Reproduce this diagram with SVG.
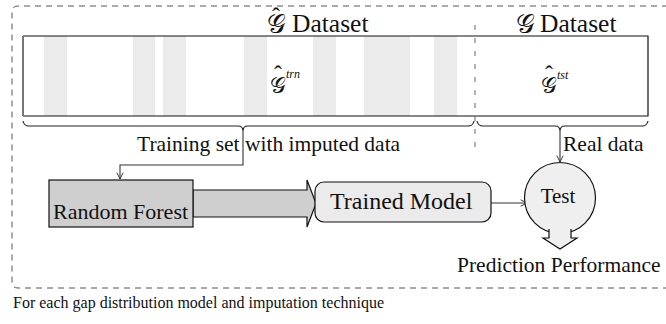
<svg xmlns="http://www.w3.org/2000/svg" width="666" height="324" viewBox="0 0 666 324">
  <style>
    text { font-family: "Liberation Serif", "Times New Roman", serif; fill: #111; }
    .lbl { font-size: 21.5px; }
    .title { font-size: 25.5px; }
    .cal { font-family: "DejaVu Serif", "DejaVu Sans", serif; font-style: normal; font-weight: normal; }
    .hat { font-size: 24px; }
    .sup { font-size: 12px; font-style: italic; }
    .frame { fill: none; stroke: #555; stroke-width: 1; stroke-dasharray: 6 5; }
    .divider { fill: none; stroke: #666; stroke-width: 1; stroke-dasharray: 5 8; }
    .stripe { fill: #ebebeb; }
    .brace { fill: none; stroke: #222; stroke-width: 1.2; }
    .conn { fill: none; stroke: #333; stroke-width: 1.1; }
    .box { stroke: #111; stroke-width: 1.2; }
  </style>
  <defs>
    <marker id="arrow" viewBox="0 0 10 10" refX="9" refY="5" markerWidth="8" markerHeight="8" orient="auto" markerUnits="userSpaceOnUse">
      <path d="M1,1 L9,5 L1,9" fill="none" stroke="#333" stroke-width="1.2"/>
    </marker>
  </defs>

  <!-- outer loop frame (open on the right) -->
  <path class="frame" d="M690,6 L18,6 Q12,6 12,12 L12,282 Q12,288 18,288 L690,288"/>
  <text x="13" y="308" font-size="16">For each gap distribution model and imputation technique</text>

  <!-- dataset strip -->
  <g id="dataset">
    <rect x="23" y="36" width="625" height="80" fill="#fff"/>
    <rect class="stripe" x="44" y="36" width="23" height="80"/>
    <rect class="stripe" x="133" y="36" width="22" height="80"/>
    <rect class="stripe" x="163" y="36" width="23" height="80"/>
    <rect class="stripe" x="244" y="36" width="23" height="80"/>
    <rect class="stripe" x="313" y="36" width="23" height="80"/>
    <rect class="stripe" x="364" y="36" width="46" height="80"/>
    <rect class="stripe" x="434" y="36" width="23" height="80"/>
    <path d="M23,36 L648,36 L648,116 L23,116" fill="none" stroke="#111" stroke-width="1.2"/>
    <line x1="23" y1="36" x2="23" y2="116" stroke="#777" stroke-width="2"/>
    <line class="divider" x1="475" y1="25" x2="475" y2="147"/>
    <text class="title" x="267" y="33"><tspan class="cal">𝒢</tspan><tspan class="hat" x="272" y="24">ˆ</tspan><tspan x="292" y="32">Dataset</tspan></text>
    <text class="title" x="516" y="33"><tspan class="cal">𝒢</tspan><tspan x="540" y="32">Dataset</tspan></text>
    <text x="270" y="93" font-size="22"><tspan class="cal">𝒢</tspan><tspan class="hat" x="274" y="82">ˆ</tspan><tspan class="sup" x="286" y="78">trn</tspan></text>
    <text x="541" y="93" font-size="22"><tspan class="cal">𝒢</tspan><tspan class="hat" x="545" y="82">ˆ</tspan><tspan class="sup" x="557" y="79">tst</tspan></text>
  </g>

  <!-- braces under the training and test parts -->
  <g id="braces">
    <path class="brace" d="M23,121 Q24,126 29,126 L238,126 Q243,126 243,131 Q243,126 248,126 L468,126 Q473,126 474,121"/>
    <path class="brace" d="M477,121 Q478,126 483,126 L555,126 Q560,126 560,131 Q560,126 565,126 L642,126 Q647,126 648,121"/>
  </g>

  <text class="lbl" x="137" y="151">Training set with imputed data</text>
  <text class="lbl" x="563" y="151">Real data</text>

  <g id="connectors">
    <polyline class="conn" points="243,131 243,165 120,165 120,179" marker-end="url(#arrow)"/>
    <line class="conn" x1="560" y1="131" x2="560" y2="162" marker-end="url(#arrow)"/>
    <line class="conn" x1="491" y1="203" x2="527" y2="203" marker-end="url(#arrow)"/>
    <!-- block arrow: Random Forest to Trained Model -->
    <polygon class="box" fill="#cfcfcf" points="193,190 307,190 307,180 316,203.5 307,227 307,217 193,217"/>
  </g>

  <g id="random-forest">
    <rect class="box" x="49" y="180" width="144" height="47" fill="#cfcfcf"/>
    <text x="53" y="219" font-size="22">Random Forest</text>
  </g>

  <g id="trained-model">
    <rect class="box" x="315" y="182" width="176" height="40" rx="9" fill="#ebebeb"/>
    <text x="330" y="209" font-size="24">Trained Model</text>
  </g>

  <g id="test">
    <circle class="box" cx="560" cy="198" r="35.5" fill="#efefef"/>
    <text x="558" y="203" font-size="21" text-anchor="middle">Test</text>
    <polygon points="549,226 549,238 543,238 560,249 577,238 571,238 571,226" fill="#efefef"/>
    <polyline class="box" fill="none" points="549,229 549,238 543,238 560,249 577,238 571,238 571,229"/>
  </g>

  <text class="lbl" x="457" y="272">Prediction Performance</text>
</svg>
